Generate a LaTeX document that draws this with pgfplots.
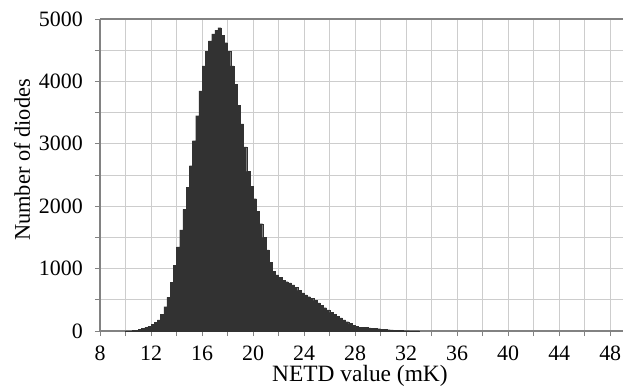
\documentclass[border=0pt]{standalone}
\usepackage{pgfplots}
\pgfplotsset{compat=1.18}
\usepackage{fontspec}
\setmainfont{Liberation Serif}
\definecolor{barc}{RGB}{50,50,50}
\definecolor{gridc}{RGB}{205,205,205}
\definecolor{axc}{RGB}{130,130,130}
\begin{document}
\begin{tikzpicture}
\useasboundingbox (-100bp,-56bp) rectangle (523bp,331bp);
\begin{axis}[
  scale only axis,
  width=523bp, height=312bp,
  xmin=8, xmax=49, ymin=0, ymax=5000,
  axis x line*=box, axis y line*=left,
  x axis line style={-}, y axis line style={-},
  axis line style={draw=axc, line width=1.2pt},
  xtick={8,12,...,48}, minor xtick={10,14,...,46},
  ytick={0,1000,...,5000}, minor ytick={500,1500,...,4500},
  xtick pos=bottom, ytick pos=left,
  tick align=outside,
  major tick length=5bp, minor tick length=5bp,
  every tick/.style={draw=axc, line width=0.8pt},
  grid=both,
  major grid style={draw=gridc, line width=0.8pt},
  minor grid style={draw=gridc, line width=0.8pt},
  /pgf/number format/assume math mode=true,
  /pgf/number format/1000 sep={},
  tick label style={font=\fontsize{22}{26}\selectfont},
  xticklabel style={anchor=base, inner sep=0pt, yshift=-24.5bp},
  yticklabel style={anchor=east, inner sep=0pt, xshift=-12bp},
  xlabel={NETD value (mK)},
  ylabel={Number of diodes},
  xlabel style={font=\fontsize{23.5}{28}\selectfont, at={(axis description cs:0.497,0)}, anchor=base, inner sep=0pt, yshift=-50.5bp},
  ylabel style={font=\fontsize{22.5}{26}\selectfont, at={(axis description cs:0,0.548)}, anchor=center, inner sep=0pt, yshift=78bp},
]
\addplot[ybar interval, fill=barc, draw=barc, line width=0.2pt] table[x=x,y=y] {
x y
10.00 2
10.25 4
10.50 8
10.75 13
11.00 25
11.25 40
11.50 55
11.75 75
12.00 105
12.25 140
12.50 180
12.75 270
13.00 390
13.25 540
13.50 780
13.75 1050
14.00 1350
14.25 1620
14.50 1950
14.75 2300
15.00 2650
15.25 3050
15.50 3450
15.75 3850
16.00 4250
16.25 4480
16.50 4650
16.75 4760
17.00 4820
17.25 4860
17.50 4740
17.75 4620
18.00 4480
18.25 4250
18.50 3950
18.75 3620
19.00 3320
19.25 2950
19.50 2560
19.75 2320
20.00 2120
20.25 1920
20.50 1720
20.75 1500
21.00 1300
21.25 1100
21.50 960
21.75 900
22.00 860
22.25 810
22.50 790
22.75 770
23.00 740
23.25 700
23.50 650
23.75 610
24.00 580
24.25 550
24.50 520
24.75 490
25.00 450
25.25 410
25.50 375
25.75 340
26.00 300
26.25 270
26.50 240
26.75 210
27.00 180
27.25 150
27.50 120
27.75 95
28.00 75
28.25 62
28.50 58
28.75 55
29.00 52
29.25 48
29.50 44
29.75 38
30.00 32
30.25 27
30.50 22
30.75 17
31.00 13
31.25 10
31.50 8
31.75 6
32.00 5
32.25 4
32.50 3
32.75 3
33.00 0
};
\end{axis}
\end{tikzpicture}
\end{document}
